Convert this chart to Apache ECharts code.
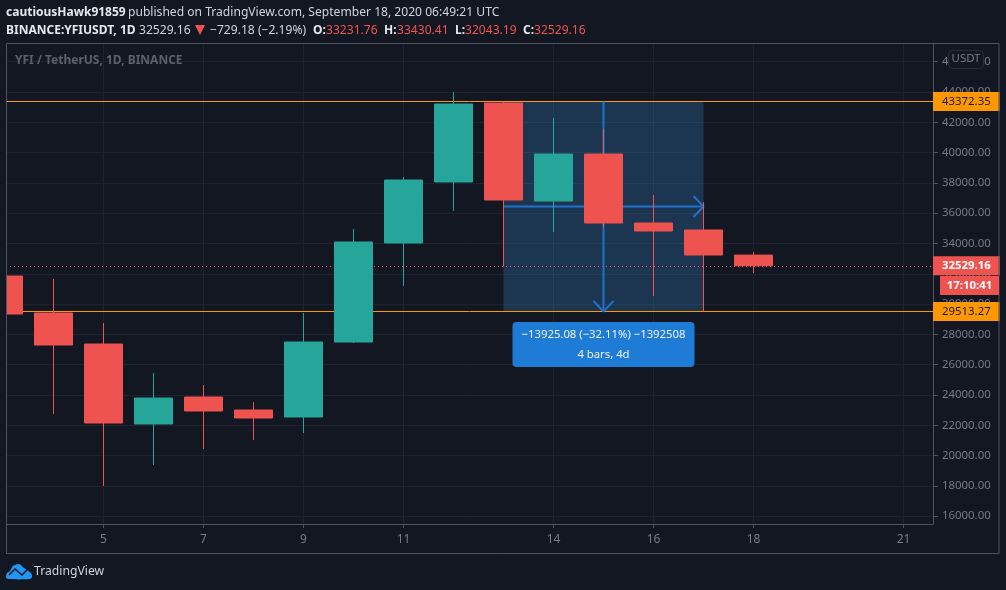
<!DOCTYPE html>
<html><head><meta charset="utf-8">
<style>html,body{margin:0;padding:0;background:#131722}#c{width:1006px;height:590px}</style>
<script src="https://cdn.jsdelivr.net/npm/echarts@6/dist/echarts.min.js"></script>
</head><body><div id="c"></div>
<script>
const days   = [3,4,5,6,7,8,9,10,11,12,13,14,15,16,17,18];
const opens  = [31853,29411,27365,22085,23867,23009,22547,27497,34031,38057,43271,36803,39905,35351,34889,33231.76];
const closes = [29345,27299,22151,23801,22943,22481,27497,34097,38189,43205,36869,39905,35351,34823,33239,32529.16];
const lows   = [29200,22745,17993,19379,20435,21029,21491,27431,31193,36143,32480,34757,35087,30533,29513,32043.19];
const highs  = [32400,31655,28751,25451,24659,23537,29411,34955,38387,43997,43372,42281,41555,37199,36737,33430.41];
const xTicks = [5,7,9,11,14,16,18,21];
const yTicks = [16000,18000,20000,22000,24000,26000,28000,30000,32000,34000,36000,38000,40000,42000,44000,46000];
const upperLevel = 43372.35, lowerLevel = 29513.27, lastPrice = 32529.16;
const measureFrom = 13, measureTo = 17, measureMid = 15;
const midLevel = (upperLevel + lowerLevel) / 2;
const FONT = '"Noto Sans", sans-serif';
const BG = '#131722', RED = '#ef5350', GREEN = '#26a69a', ORANGE = '#ff9800', BLUE = '#1e72cc';
const GRIDC = '#1f232f', AXISC = '#50535e', TXT = '#787b86';

const chart = echarts.init(document.getElementById('c'), null, {renderer: 'canvas'});
const helper = (name, pts, w) => ({name, type: 'line', data: pts, symbol: 'none', silent: true, z: 1,
  lineStyle: {color: BLUE, width: w || 2}, animation: false, clip: true});
const tag = (v, bg, fg, weight) => ({yAxis: v, lineStyle: {color: bg === RED ? RED : ORANGE, type: bg === RED ? [1, 3] : 'solid', width: 1},
  label: {show: true, position: 'end', distance: 0, formatter: v.toFixed(2), backgroundColor: bg, color: fg,
    fontFamily: FONT, fontSize: 11.4, fontWeight: weight || 'normal', padding: [4, 9, 4, 9], lineHeight: 11}});

const texts = [
  ['cautiousHawk91859', 6, 13, '#e6e8ee', 'bold'],
  ['published on TradingView.com, September 18, 2020 06:49:21 UTC', 128, 13, '#d1d4dc'],
  ['BINANCE:YFIUSDT, 1D', 6, 31, '#e6e8ee', 'bold'],
  ['32529.16', 139, 31, '#d1d4dc'],
  ['\u2212729.18 (\u22122.19%)', 210, 31, '#d1d4dc'],
  ['O:', 313, 31, '#e6e8ee', 'bold'], ['33231.76', 326, 31, RED],
  ['H:', 384, 31, '#e6e8ee', 'bold'], ['33430.41', 397, 31, RED],
  ['L:', 455, 31, '#e6e8ee', 'bold'], ['32043.19', 465, 31, RED],
  ['C:', 523, 31, '#e6e8ee', 'bold'], ['32529.16', 534, 31, RED]
];
const graphic = texts.map(t => ({type: 'text', z: 100, silent: true, x: t[1], y: t[2],
  style: {text: t[0], fill: t[3], font: (t[4] || 'normal') + (t[4] ? ' 12px ' : ' 12.1px ') + FONT, textVerticalAlign: 'middle'}}));
graphic.push(
  {type: 'polygon', z: 100, silent: true, shape: {points: [[195, 25], [205, 25], [200, 35]]}, style: {fill: RED}},
  {type: 'rect', z: 50, silent: true, shape: {x: 0, y: 40, width: 6, height: 490}, style: {fill: BG}},
  {type: 'rect', z: 60, silent: true, shape: {x: 6.5, y: 43.5, width: 992.5, height: 510}, style: {fill: 'none', stroke: AXISC, lineWidth: 1}},
  {type: 'text', z: 100, silent: true, x: 15, y: 61, style: {text: 'YFI / TetherUS, 1D, BINANCE', fill: '#5d606b', font: 'bold 12px ' + FONT, textVerticalAlign: 'middle'}},
  {type: 'rect', z: 100, silent: true, shape: {x: 948.5, y: 50.5, width: 35, height: 18, r: 4}, style: {fill: BG, stroke: '#2a2e39', lineWidth: 1}},
  {type: 'text', z: 101, silent: true, x: 966, y: 59, style: {text: 'USDT', fill: TXT, font: '11.4px ' + FONT, textAlign: 'center', textVerticalAlign: 'middle'}},
  {type: 'rect', z: 100, silent: true, shape: {x: 940, y: 276, width: 59, height: 19}, style: {fill: RED}},
  {type: 'text', z: 101, silent: true, x: 969.5, y: 286, style: {text: '17:10:41', fill: '#ffffff', font: 'bold 11.4px ' + FONT, textAlign: 'center', textVerticalAlign: 'middle'}},
  {type: 'polygon', z: 100, silent: true, shape: {smooth: 0.3, points: [[6, 577], [7, 573], [10, 571], [13, 566], [19, 564], [24, 568], [27, 570], [31, 573], [32, 577], [30, 579], [8, 579]]}, style: {fill: '#2196f3'}},
  {type: 'polyline', z: 101, silent: true, shape: {points: [[9, 575], [15, 569], [22, 575], [27, 570]]}, style: {fill: 'none', stroke: BG, lineWidth: 1.6}},
  {type: 'text', z: 100, silent: true, x: 34, y: 572, style: {text: 'TradingView', fill: '#d1d4dc', font: '12.2px ' + FONT, textVerticalAlign: 'middle'}}
);

chart.setOption({
  animation: false,
  backgroundColor: BG,
  graphic,
  grid: {left: 6, right: 73, top: 43, bottom: 66},
  xAxis: {type: 'value', min: 3.05, max: 21.59, scale: true,
    axisLine: {onZero: false, lineStyle: {color: AXISC}},
    axisTick: {customValues: xTicks, length: 4, lineStyle: {color: AXISC}},
    axisLabel: {customValues: xTicks, color: TXT, fontFamily: FONT, fontSize: 12, margin: 10, formatter: v => String(v)},
    splitLine: {show: true, lineStyle: {color: GRIDC}}},
  yAxis: {type: 'value', position: 'right', min: 15485, max: 47231,
    axisLine: {show: true, onZero: false, lineStyle: {color: AXISC}},
    axisTick: {show: true, customValues: yTicks, length: 5, lineStyle: {color: AXISC}},
    axisLabel: {customValues: yTicks, color: TXT, fontFamily: FONT, fontSize: 11.4, margin: 9, padding: [3, 0, 0, 0], formatter: v => v.toFixed(2)},
    splitLine: {show: true, lineStyle: {color: GRIDC}}},
  series: [
    {name: 'levels', type: 'line', data: [], z: 1, silent: true, animation: false,
      markArea: {silent: true, z: 1, itemStyle: {color: 'rgba(66,165,245,0.22)'},
        data: [[{coord: [measureFrom, upperLevel]}, {coord: [measureTo, lowerLevel]}]]},
      markLine: {silent: true, z: 1, symbol: 'none', animation: false, precision: 2,
        data: [tag(upperLevel, ORANGE, BG), tag(lowerLevel, ORANGE, BG), tag(lastPrice, RED, '#ffffff', 'bold')]}},
    helper('hArrow', [[measureFrom, midLevel], [measureTo, midLevel]]),
    helper('hHead', [[measureTo - 0.2, midLevel + 693], [measureTo, midLevel], [measureTo - 0.2, midLevel - 693]]),
    helper('vArrow', [[measureMid, upperLevel], [measureMid, lowerLevel]]),
    helper('vHead', [[measureMid - 0.2, lowerLevel + 693], [measureMid, lowerLevel], [measureMid + 0.2, lowerLevel + 693]]),
    {name: 'YFIUSDT', type: 'candlestick', z: 2, barWidth: 39, silent: true, clip: true, animation: false,
      encode: {x: 0, y: [1, 2, 3, 4]},
      itemStyle: {color: GREEN, color0: RED, borderColor: GREEN, borderColor0: RED, borderWidth: 1, borderJoin: 'miter'},
      data: days.map((d, i) => [d, opens[i], closes[i], lows[i], highs[i]])},
    {name: 'measureLabel', type: 'scatter', z: 3, silent: true, symbolSize: 1, itemStyle: {opacity: 0},
      data: [[measureMid, lowerLevel]],
      label: {show: true, position: 'inside', offset: [0, 33], opacity: 1, backgroundColor: '#1e7cd6', borderRadius: 4,
        padding: [2.5, 10, 2.5, 10], color: '#f0f3fa', fontFamily: FONT, fontSize: 11.3, lineHeight: 20, width: 162, align: 'center',
        formatter: '\u221213925.08 (\u221232.11%) \u22121392508\n4 bars, 4d'}}
  ]
});
</script></body></html>
